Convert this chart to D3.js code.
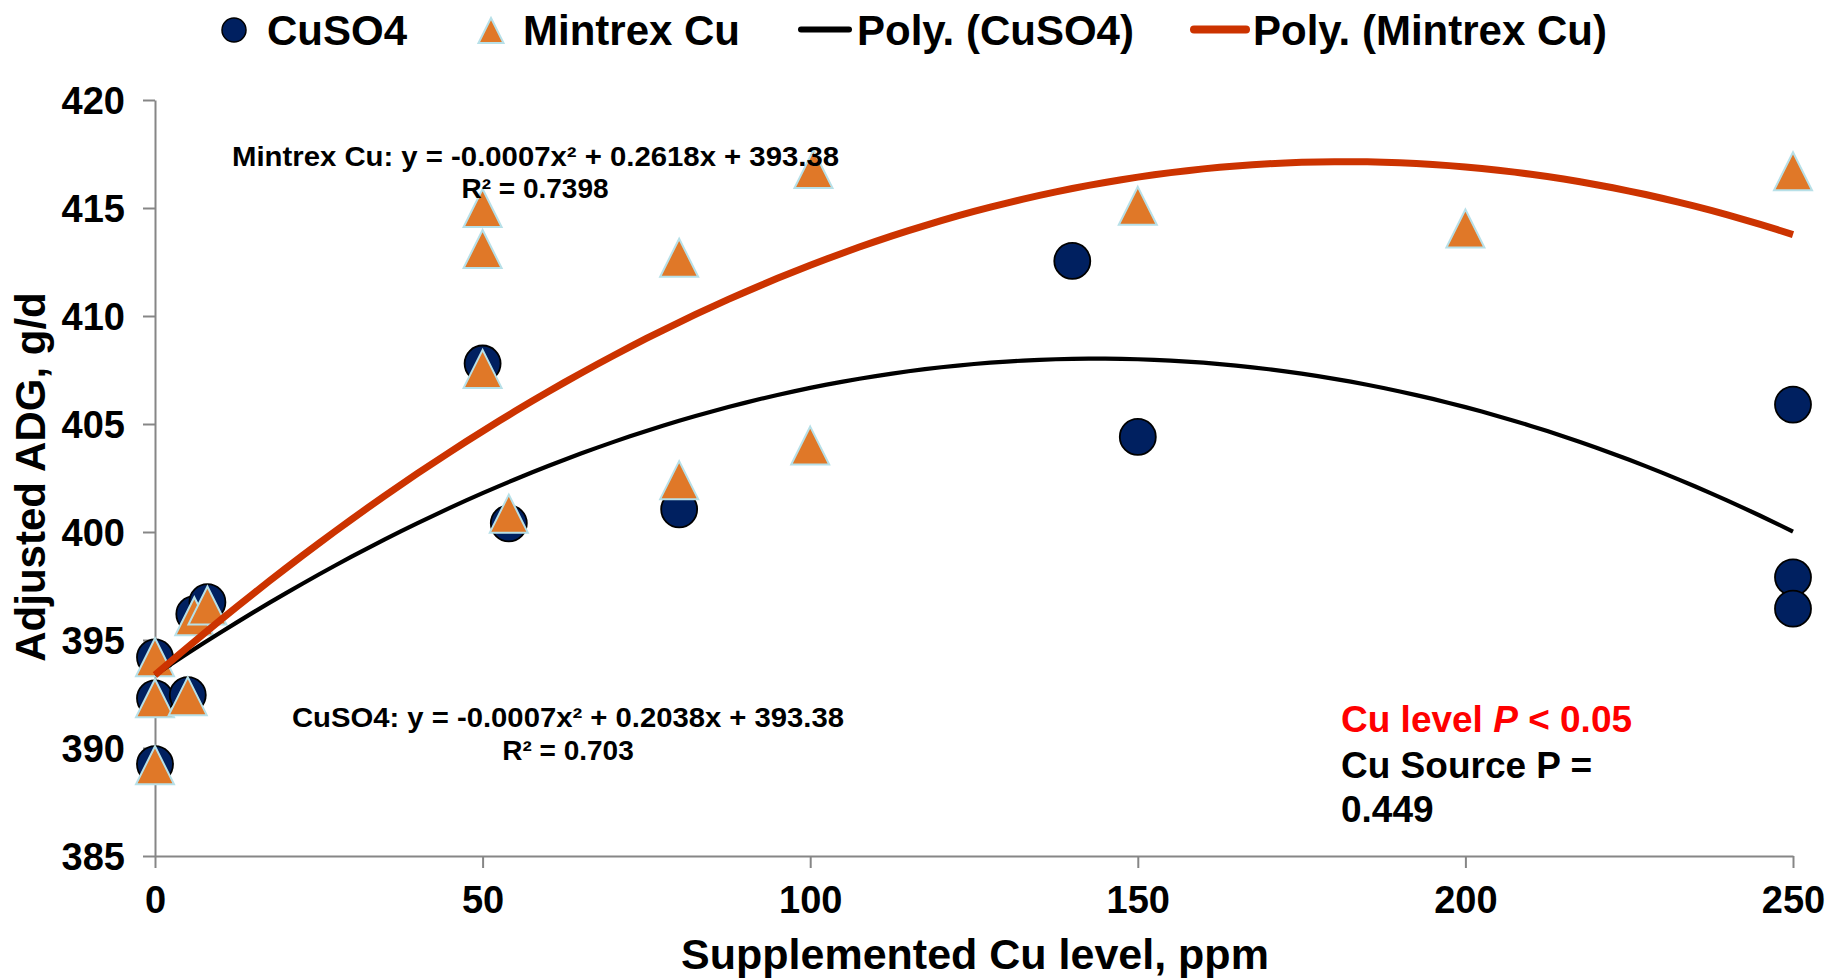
<!DOCTYPE html>
<html>
<head>
<meta charset="utf-8">
<script src="https://cdn.jsdelivr.net/npm/d3@7/dist/d3.min.js"></script>
<style>
body { margin: 0; background: #fff; }
svg { display: block; }
text { font-family: "Liberation Sans", Arial, sans-serif; font-weight: bold; }
</style>
</head>
<body>
<script>
// values
var cuso4X = [0, 0, 0, 5, 6, 8, 50, 54, 80, 140, 150, 250, 250, 250];
var cuso4Y = [394.2, 392.3, 389.25, 392.45, 396.2, 396.75, 407.8, 400.4, 401.05, 412.55, 404.4, 405.9, 397.9, 396.45];
var mintrexX = [0, 0, 0, 5, 6, 8, 50, 50, 50, 54, 80, 80, 100.5, 100, 150, 200, 250];
var mintrexY = [394.2, 392.3, 389.2, 392.4, 396.1, 396.6, 415.0, 413.1, 407.55, 400.85, 412.7, 402.4, 416.8, 404.0, 415.1, 414.05, 416.7];
// polynomial trendlines: [c, b, a] for y = a x^2 + b x + c
var cuso4Trend = [393.38, 0.2038, -0.000709];
var mintrexTrend = [393.38, 0.2618, -0.000721];
var xTicks = [0, 50, 100, 150, 200, 250];
var yTicks = [385, 390, 395, 400, 405, 410, 415, 420];
var legendLabels = ['CuSO4', 'Mintrex Cu', 'Poly. (CuSO4)', 'Poly. (Mintrex Cu)'];

var W = 1831, H = 978;
var navy = '#002060', orange = '#e07828', triEdge = '#b7e0e8', trendRed = '#cc3300', axisGrey = '#868686';

var svg = d3.select('body').append('svg').attr('width', W).attr('height', H);

var x = d3.scaleLinear().domain([0, 250]).range([155, 1793]);
var y = d3.scaleLinear().domain([385, 420]).range([856, 100]);

// axes
var yAxis = d3.axisLeft(y).tickValues(yTicks).tickSize(12).tickSizeOuter(0).tickPadding(18);
var xAxis = d3.axisBottom(x).tickValues(xTicks).tickSize(12).tickSizeOuter(0);

var gy = svg.append('g').attr('transform', 'translate(155,0)').call(yAxis);
var gx = svg.append('g').attr('transform', 'translate(0,856)').call(xAxis);
[gx, gy].forEach(function(g){
	g.select('.domain').attr('stroke', axisGrey).attr('stroke-width', 2);
	g.selectAll('.tick line').attr('stroke', axisGrey).attr('stroke-width', 2);
	g.selectAll('.tick text').attr('fill', '#000').style('font-family', '"Liberation Sans", Arial, sans-serif').style('font-weight', 'bold');
});
gy.selectAll('.tick text').style('font-size', '38px').attr('dy', '0.36em');
gx.selectAll('.tick text').style('font-size', '38px').attr('y', 57).attr('dy', 0);

// axis titles
svg.append('text').attr('transform', 'translate(45,477) rotate(-90)').attr('text-anchor', 'middle')
	.style('font-size', '42px').text('Adjusted ADG, g/d');
svg.append('text').attr('x', 975).attr('y', 969).attr('text-anchor', 'middle')
	.style('font-size', '43px').text('Supplemented Cu level, ppm');

// markers
svg.append('g').selectAll('circle').data(cuso4X).enter().append('circle')
	.attr('cx', function(d){ return x(d); })
	.attr('cy', function(d, i){ return y(cuso4Y[i]); })
	.attr('r', 18).attr('fill', navy).attr('stroke', '#000').attr('stroke-width', 1.8);

// triangle centred on its bounding box
function triPath(cx, cy, s){
	return 'M' + cx + ',' + (cy - s / 2) + 'L' + (cx + s / 2) + ',' + (cy + s / 2) + 'L' + (cx - s / 2) + ',' + (cy + s / 2) + 'Z';
}
svg.append('g').selectAll('path').data(mintrexX).enter().append('path')
	.attr('d', function(d, i){ return triPath(x(d), y(mintrexY[i]), 38); })
	.attr('fill', orange).attr('stroke', triEdge).attr('stroke-width', 2);

// trendlines
var xs = d3.range(0, 250.01, 2.5);
var line = d3.line().x(function(d){ return x(d[0]); }).y(function(d){ return y(d[1]); });
function curve(c){ return xs.map(function(v){ return [v, c[0] + c[1] * v + c[2] * v * v]; }); }
svg.append('path').attr('d', line(curve(cuso4Trend))).attr('fill', 'none').attr('stroke', '#000').attr('stroke-width', 4.2);
svg.append('path').attr('d', line(curve(mintrexTrend))).attr('fill', 'none').attr('stroke', trendRed).attr('stroke-width', 7);

// equations
function eqText(x0, y0, anchor, s, len){
	var t = svg.append('text').attr('x', x0).attr('y', y0).attr('text-anchor', anchor).style('font-size', '28px').text(s);
	if (len) t.attr('textLength', len).attr('lengthAdjust', 'spacingAndGlyphs');
	return t;
}
eqText(232, 166, 'start', 'Mintrex Cu: y = -0.0007x² + 0.2618x + 393.38', 607);
eqText(535, 198, 'middle', 'R² = 0.7398');
eqText(292, 727, 'start', 'CuSO4: y = -0.0007x² + 0.2038x + 393.38', 552);
eqText(568, 760, 'middle', 'R² = 0.703');

// p-values
var pt = svg.append('text').attr('x', 1341).attr('y', 732).attr('fill', '#ff0000').style('font-size', '37px');
pt.append('tspan').text('Cu level ');
pt.append('tspan').style('font-style', 'italic').text('P');
pt.append('tspan').text(' < 0.05');
svg.append('text').attr('x', 1341).attr('y', 778).style('font-size', '37px').text('Cu Source P =');
svg.append('text').attr('x', 1341).attr('y', 822).style('font-size', '37px').text('0.449');

// legend
var lg = svg.append('g');
lg.append('circle').attr('cx', 234).attr('cy', 30).attr('r', 12).attr('fill', navy).attr('stroke', '#000').attr('stroke-width', 1.5);
lg.append('path').attr('d', triPath(491, 30.5, 25)).attr('fill', orange).attr('stroke', triEdge).attr('stroke-width', 2);
lg.append('line').attr('x1', 801).attr('x2', 849).attr('y1', 29.5).attr('y2', 29.5).attr('stroke', '#000').attr('stroke-width', 6).attr('stroke-linecap', 'round');
lg.append('line').attr('x1', 1194).attr('x2', 1246).attr('y1', 29.5).attr('y2', 29.5).attr('stroke', trendRed).attr('stroke-width', 8).attr('stroke-linecap', 'round');
var legX = [267, 523, 857, 1253];
lg.selectAll('text').data(legendLabels).enter().append('text')
	.attr('x', function(d, i){ return legX[i]; }).attr('y', 45)
	.style('font-size', '42px').text(function(d){ return d; });
</script>
</body>
</html>
